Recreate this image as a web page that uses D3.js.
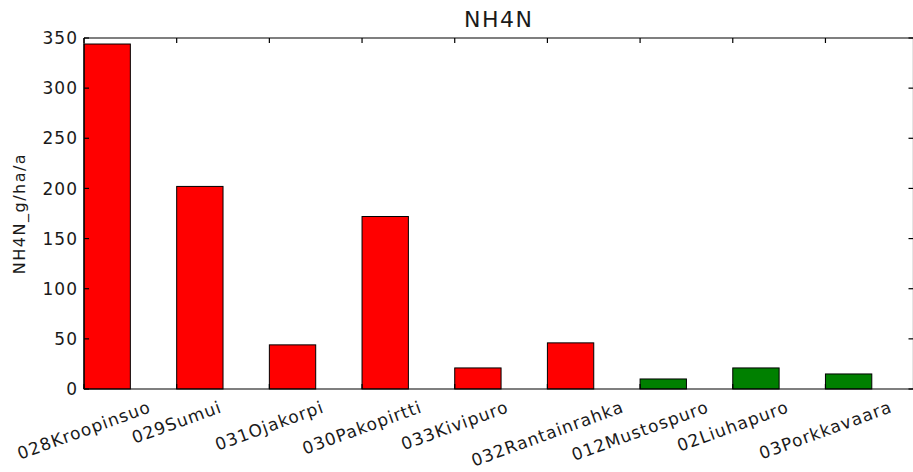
<!DOCTYPE html>
<html>
<head>
<meta charset="utf-8">
<script src="https://cdn.jsdelivr.net/npm/d3@7"></script>
<style>
  html, body { margin: 0; padding: 0; background: #fff; }
  svg { display: block; }
  text { font-family: 'DejaVu Sans', sans-serif; fill: #1a1a1a; }
</style>
</head>
<body>
<div id="chart"></div>
<script>
// NH4N load per site, matplotlib classic look
const sites = ['028Kroopinsuo', '029Sumui', '031Ojakorpi', '030Pakopirtti', '033Kivipuro',
  '032Rantainrahka', '012Mustospuro', '02Liuhapuro', '03Porkkavaara'];
const values = [344, 202, 44, 172, 21, 46, 10, 21, 15];
const colors = ['red', 'red', 'red', 'red', 'red', 'red', 'green', 'green', 'green'];
const yTicks = [0, 50, 100, 150, 200, 250, 300, 350];

const W = 913, H = 472;
const m = { top: 38, right: -0.5, bottom: 83, left: 84 };

const svg = d3.select('#chart').append('svg')
  .attr('width', W).attr('height', H);

const x = d3.scaleLinear().domain([0, 8.95]).range([m.left, W - m.right]);
const y = d3.scaleLinear().domain([0, 350]).range([H - m.bottom, m.top]);
const barW = 0.5;

const g = svg.append('g');

// bars
g.selectAll('rect.bar')
  .data(values).enter().append('rect')
  .attr('class', 'bar')
  .attr('x', (d, i) => x(i))
  .attr('y', d => y(d))
  .attr('width', x(barW) - x(0))
  .attr('height', d => y(0) - y(d))
  .attr('fill', (d, i) => colors[i])
  .attr('stroke', '#000')
  .attr('stroke-width', 1);

// frame
const x0 = x.range()[0], x1 = x.range()[1], y0 = y.range()[0], y1 = y.range()[1];
const frame = g.append('g').attr('stroke', '#000').attr('stroke-width', 1.2).attr('fill', 'none');
frame.append('line').attr('x1', x0).attr('x2', x1).attr('y1', y1).attr('y2', y1);
frame.append('line').attr('x1', x0).attr('x2', x1).attr('y1', y0).attr('y2', y0);
frame.append('line').attr('x1', x0).attr('x2', x0).attr('y1', y0).attr('y2', y1);
frame.append('line').attr('x1', x1).attr('x2', x1).attr('y1', y0).attr('y2', y1);

// inward ticks
const tl = 5;
const ticks = g.append('g').attr('stroke', '#000').attr('stroke-width', 1.2);
yTicks.forEach(v => {
  ticks.append('line').attr('x1', x0).attr('x2', x0 + tl).attr('y1', y(v)).attr('y2', y(v));
  ticks.append('line').attr('x1', x1).attr('x2', x1 - tl).attr('y1', y(v)).attr('y2', y(v));
});
sites.forEach((s, i) => {
  ticks.append('line').attr('x1', x(i)).attr('x2', x(i)).attr('y1', y1).attr('y2', y1 + tl);
  ticks.append('line').attr('x1', x(i)).attr('x2', x(i)).attr('y1', y0).attr('y2', y0 - tl);
});

// y tick labels
g.selectAll('text.ytick')
  .data(yTicks).enter().append('text')
  .attr('class', 'ytick')
  .attr('x', x0 - 6)
  .attr('y', d => y(d))
  .attr('dy', '0.36em')
  .attr('text-anchor', 'end')
  .style('font-size', '17px')
  .style('letter-spacing', '1px')
  .text(d => d);

// x tick labels, rotated, centred on tick, top of rotated box just under axis
const angle = 20;
const rot = angle * Math.PI / 180;
const labelTop = y0 + 10;
sites.forEach((s, i) => {
  const t = g.append('text')
    .attr('text-anchor', 'middle')
    .attr('dominant-baseline', 'central')
    .style('font-size', '17px')
    .style('letter-spacing', '1px')
    .text(s);
  const w = t.node().getComputedTextLength();
  const h = 15;
  const half = (w * Math.sin(rot) + h * Math.cos(rot)) / 2;
  const cx = x(i), cy = labelTop + half;
  t.attr('transform', `translate(${cx},${cy}) rotate(${-angle})`);
});

// title
svg.append('text')
  .attr('x', (x0 + x1) / 2)
  .attr('y', 27)
  .attr('text-anchor', 'middle')
  .style('font-size', '22px')
  .style('letter-spacing', '1.5px')
  .text('NH4N');

// y axis label
svg.append('text')
  .attr('transform', `translate(19,${(y0 + y1) / 2}) rotate(-90)`)
  .attr('text-anchor', 'middle')
  .attr('dominant-baseline', 'central')
  .style('font-size', '16px')
  .style('letter-spacing', '1.5px')
  .text('NH4N_g/ha/a');
</script>
</body>
</html>
